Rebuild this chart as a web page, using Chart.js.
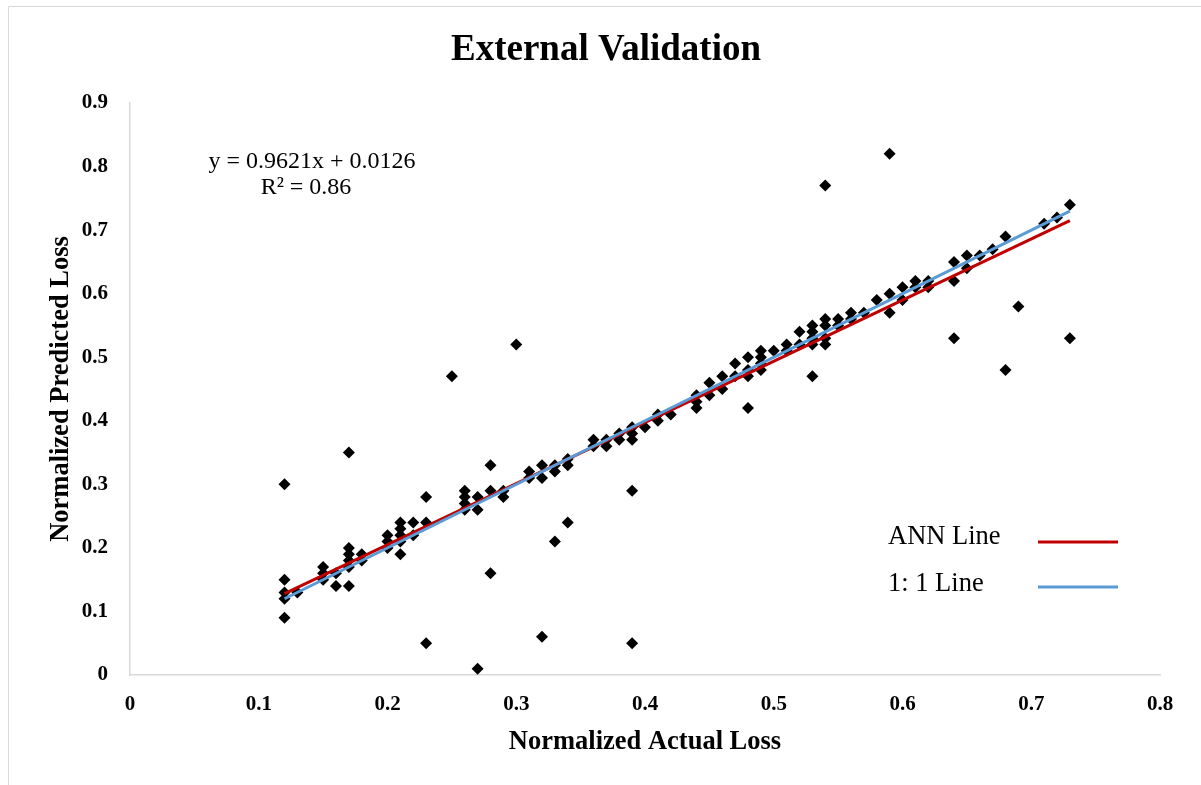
<!DOCTYPE html>
<html>
<head>
<meta charset="utf-8">
<script src="https://cdn.jsdelivr.net/npm/chart.js@4.4.1/dist/chart.umd.min.js"></script>
<style>
  html, body { margin: 0; padding: 0; background: #fff; }
  #wrap { width: 1201px; height: 785px; }
</style>
</head>
<body>
<div id="wrap"><canvas id="chart" width="1201" height="785"></canvas></div>
<script>
// Werte (Actual -> Predicted)
const actualLoss = [
  0.12, 0.12, 0.12, 0.12, 0.12, 0.13, 0.15, 0.15, 0.15, 0.16, 0.16,
  0.17, 0.17, 0.17, 0.17, 0.17, 0.17, 0.18, 0.18, 0.20, 0.20, 0.20,
  0.21, 0.21, 0.21, 0.21, 0.21, 0.22, 0.22, 0.23, 0.23, 0.23, 0.25,
  0.26, 0.26, 0.26, 0.26, 0.27, 0.27, 0.27, 0.28, 0.28, 0.28, 0.29, 0.29,
  0.30, 0.31, 0.31, 0.32, 0.32, 0.32, 0.33, 0.33, 0.33, 0.34, 0.34, 0.34,
  0.36, 0.36, 0.37, 0.37, 0.38, 0.38, 0.39, 0.39, 0.39, 0.39, 0.39,
  0.40, 0.41, 0.41, 0.42, 0.44, 0.44, 0.44, 0.45, 0.45, 0.46, 0.46,
  0.47, 0.47, 0.48, 0.48, 0.48, 0.48, 0.49, 0.49, 0.49, 0.49, 0.50,
  0.51, 0.51, 0.52, 0.52, 0.53, 0.53, 0.53, 0.53, 0.53,
  0.54, 0.54, 0.54, 0.54, 0.54, 0.55, 0.55, 0.56, 0.56, 0.57, 0.58,
  0.59, 0.59, 0.59, 0.60, 0.60, 0.61, 0.61, 0.62, 0.62,
  0.64, 0.64, 0.64, 0.65, 0.65, 0.66, 0.67, 0.68, 0.68, 0.69,
  0.71, 0.72, 0.73, 0.73
];
const predictedLoss = [
  0.30, 0.15, 0.13, 0.12, 0.09, 0.13, 0.17, 0.16, 0.15, 0.16, 0.14,
  0.35, 0.20, 0.19, 0.18, 0.17, 0.14, 0.19, 0.18, 0.22, 0.21, 0.20,
  0.24, 0.23, 0.22, 0.21, 0.19, 0.24, 0.22, 0.28, 0.24, 0.05, 0.47,
  0.29, 0.28, 0.27, 0.26, 0.28, 0.26, 0.01, 0.33, 0.29, 0.16, 0.29, 0.28,
  0.52, 0.32, 0.31, 0.33, 0.31, 0.06, 0.33, 0.32, 0.21, 0.34, 0.33, 0.24,
  0.37, 0.36, 0.37, 0.36, 0.38, 0.37, 0.39, 0.38, 0.37, 0.29, 0.05,
  0.39, 0.41, 0.40, 0.41, 0.44, 0.43, 0.42, 0.46, 0.44, 0.47, 0.45,
  0.49, 0.47, 0.50, 0.48, 0.47, 0.42, 0.51, 0.50, 0.49, 0.48, 0.51,
  0.52, 0.51, 0.54, 0.52, 0.55, 0.54, 0.53, 0.52, 0.47,
  0.77, 0.56, 0.55, 0.53, 0.52, 0.56, 0.55, 0.57, 0.56, 0.57, 0.59,
  0.82, 0.60, 0.57, 0.61, 0.59, 0.62, 0.61, 0.62, 0.61,
  0.65, 0.62, 0.53, 0.66, 0.64, 0.66, 0.67, 0.69, 0.48, 0.58,
  0.71, 0.72, 0.74, 0.53
];

// Endpunkte der beiden Linien
const lineX = [0.12, 0.73];
const annLineY = [0.128, 0.715];
const oneToOneY = [0.12, 0.73];

const xTicks = [0, 0.1, 0.2, 0.3, 0.4, 0.5, 0.6, 0.7, 0.8];
const yTicks = [0, 0.1, 0.2, 0.3, 0.4, 0.5, 0.6, 0.7, 0.8, 0.9];

const chartTitle = 'External Validation';
const equationLines = ['y = 0.9621x + 0.0126', 'R\u00B2 = 0.86'];

const SERIF = '"Liberation Serif", "Times New Roman", serif';
const AXIS_GREY = '#D9D9D9';

const toPoints = (xs, ys) => xs.map((x, i) => ({ x: x, y: ys[i] }));

// Rahmen, Titel, Gleichung und Legende selbst zeichnen
const decorPlugin = {
  id: 'decor',
  beforeDraw(chart) {
    const c = chart.ctx;
    c.save();
    c.strokeStyle = AXIS_GREY;
    c.lineWidth = 1;
    c.beginPath();
    c.moveTo(8.5, chart.height);
    c.lineTo(8.5, 6.5);
    c.lineTo(chart.width, 6.5);
    c.stroke();
    c.restore();
  },
  afterDraw(chart) {
    const c = chart.ctx;
    const a = chart.chartArea;
    c.save();
    c.fillStyle = '#000';
    c.textAlign = 'center';
    c.textBaseline = 'middle';
    c.font = 'bold 37px ' + SERIF;
    c.fillText(chartTitle, 606, 50);

    c.font = '24px ' + SERIF;
    c.fillText(equationLines[0], a.left + 182, a.top + 59);
    c.fillText(equationLines[1], a.left + 176, a.top + 85);

    const items = chart.data.datasets.filter(d => d.type === 'line');
    c.font = '26.5px ' + SERIF;
    c.textAlign = 'left';
    items.forEach((d, i) => {
      const ty = a.top + 434 + i * 47;
      const ly = a.top + 439 + i * 45;
      c.fillStyle = '#000';
      c.fillText(d.label, a.left + 758, ty);
      c.strokeStyle = d.borderColor;
      c.lineWidth = 3;
      c.beginPath();
      c.moveTo(a.left + 908, ly);
      c.lineTo(a.left + 988, ly);
      c.stroke();
    });
    c.restore();
  }
};

new Chart(document.getElementById('chart'), {
  data: {
    datasets: [
      {
        type: 'scatter',
        label: 'Data',
        data: toPoints(actualLoss, predictedLoss),
        pointStyle: 'rectRot',
        pointRadius: 6,
        pointHoverRadius: 6,
        backgroundColor: '#000',
        borderColor: '#000',
        borderWidth: 0,
        order: 3
      },
      {
        type: 'line',
        label: 'ANN Line',
        data: toPoints(lineX, annLineY),
        borderColor: '#C00000',
        borderWidth: 3,
        pointRadius: 0,
        fill: false,
        order: 2
      },
      {
        type: 'line',
        label: '1: 1 Line',
        data: toPoints(lineX, oneToOneY),
        borderColor: '#5B9BD5',
        borderWidth: 3,
        pointRadius: 0,
        fill: false,
        order: 1
      }
    ]
  },
  options: {
    responsive: false,
    animation: false,
    layout: { padding: { left: 0, right: 41, top: 103, bottom: 0 } },
    plugins: {
      legend: { display: false },
      tooltip: { enabled: false },
      title: { display: false }
    },
    scales: {
      x: {
        type: 'linear',
        min: 0,
        max: 0.8,
        afterFit: s => { s.height = 110; },
        afterBuildTicks: s => { s.ticks = xTicks.map(v => ({ value: v })); },
        grid: { display: false, drawTicks: false },
        border: { color: AXIS_GREY, width: 1.5 },
        ticks: {
          padding: 17,
          color: '#000',
          font: { family: SERIF, size: 21, weight: 'bold' },
          callback: v => String(+v.toFixed(1))
        },
        title: {
          display: true,
          text: 'Normalized Actual Loss',
          color: '#000',
          font: { family: SERIF, size: 26.5, weight: 'bold', lineHeight: 1.2 },
          padding: { top: 0, bottom: 27 }
        }
      },
      y: {
        type: 'linear',
        min: 0,
        max: 0.9,
        afterFit: s => { s.width = 130; },
        afterBuildTicks: s => { s.ticks = yTicks.map(v => ({ value: v })); },
        grid: { display: false, drawTicks: false },
        border: { color: AXIS_GREY, width: 1.5 },
        ticks: {
          padding: 22,
          color: '#000',
          font: { family: SERIF, size: 21, weight: 'bold' },
          callback: v => String(+v.toFixed(1))
        },
        title: {
          display: true,
          text: 'Normalized Predicted Loss',
          color: '#000',
          font: { family: SERIF, size: 26.5, weight: 'bold', lineHeight: 1.2 },
          padding: { top: 45, bottom: 0 }
        }
      }
    }
  },
  plugins: [decorPlugin]
});
</script>
</body>
</html>
